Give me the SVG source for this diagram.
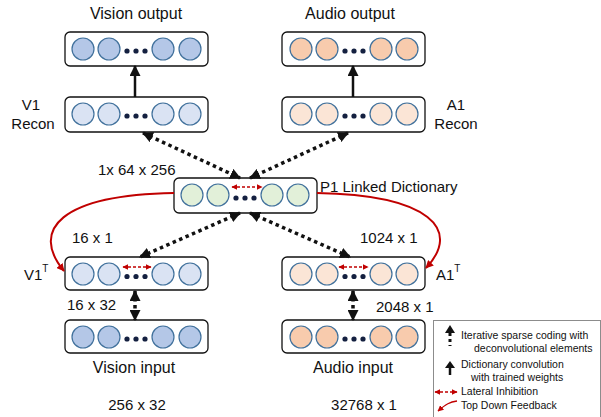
<svg xmlns="http://www.w3.org/2000/svg" width="601" height="417" viewBox="0 0 601 417">
<style>
text{font-family:"Liberation Sans",Arial,sans-serif;fill:#111}
.t16{font-size:16px}
.t15{font-size:15px}
.lg{font-size:10.5px}
.box{fill:#fff;stroke:#111;stroke-width:1.3}
.c{stroke:#41719c;stroke-width:1.2}
.vb{fill:#b4c7e7}.vl{fill:#dae3f3}.ab{fill:#f8cbad}.al{fill:#fbe5d6}.gr{fill:#e2f0d9}
.dot{fill:#142040}
.dotted{fill:none;stroke:#111;stroke-width:3.5;stroke-dasharray:3.5 3.5}
.solid{fill:none;stroke:#111;stroke-width:2.5}
.red{fill:none;stroke:#c00000;stroke-width:2}
.reddash{fill:none;stroke:#c00000;stroke-width:1.3;stroke-dasharray:3 2}
</style>
<defs>
<marker id="ah" viewBox="0 0 10 10" refX="9" refY="5" markerWidth="11" markerHeight="11" markerUnits="userSpaceOnUse" orient="auto-start-reverse"><path d="M0,0 L10,5 L0,10 z" fill="#111"/></marker>
<marker id="ahs" viewBox="0 0 10 10" refX="9" refY="5" markerWidth="9" markerHeight="9" markerUnits="userSpaceOnUse" orient="auto-start-reverse"><path d="M0,0 L10,5 L0,10 z" fill="#111"/></marker>
<marker id="rh" viewBox="0 0 10 10" refX="9" refY="5" markerWidth="8" markerHeight="8" markerUnits="userSpaceOnUse" orient="auto-start-reverse"><path d="M0,0 L10,5 L0,10 z" fill="#c00000"/></marker>
<marker id="rhs" viewBox="0 0 10 10" refX="9" refY="5" markerWidth="6" markerHeight="6" markerUnits="userSpaceOnUse" orient="auto-start-reverse"><path d="M0,0 L10,5 L0,10 z" fill="#c00000"/></marker>
<g id="row">
<rect class="box" x="0" y="0" width="143" height="34" rx="5"/>
</g>
</defs>

<g id="vision-output" transform="translate(65,32)">
<rect class="box" x="0" y="0" width="143" height="34" rx="5"/>
<circle class="c vb" cx="18" cy="17" r="11"/><circle class="c vb" cx="44" cy="17" r="11"/>
<circle class="c vb" cx="98" cy="17" r="11"/><circle class="c vb" cx="125" cy="17" r="11"/>
<circle class="dot" cx="62" cy="19" r="2.6"/><circle class="dot" cx="71" cy="19" r="2.6"/><circle class="dot" cx="80" cy="19" r="2.6"/>
</g>
<g id="v1-recon" transform="translate(65,97)">
<rect class="box" x="0" y="0" width="143" height="35" rx="5"/>
<circle class="c vl" cx="18" cy="17" r="11"/><circle class="c vl" cx="44" cy="17" r="11"/>
<circle class="c vl" cx="98" cy="17" r="11"/><circle class="c vl" cx="125" cy="17" r="11"/>
<circle class="dot" cx="62" cy="19" r="2.6"/><circle class="dot" cx="71" cy="19" r="2.6"/><circle class="dot" cx="80" cy="19" r="2.6"/>
</g>
<g id="v1t" transform="translate(65,257)">
<rect class="box" x="0" y="0" width="143" height="33" rx="5"/>
<circle class="c vl" cx="18" cy="17" r="11"/><circle class="c vl" cx="44" cy="17" r="11"/>
<circle class="c vl" cx="98" cy="17" r="11"/><circle class="c vl" cx="125" cy="17" r="11"/>
<circle class="dot" cx="62" cy="19.5" r="2.6"/><circle class="dot" cx="71" cy="19.5" r="2.6"/><circle class="dot" cx="80" cy="19.5" r="2.6"/>
<path class="reddash" d="M58,10 H86" marker-start="url(#rhs)" marker-end="url(#rhs)"/>
</g>
<g id="vision-input" transform="translate(65,320)">
<rect class="box" x="0" y="0" width="143" height="33" rx="5"/>
<circle class="c vb" cx="18" cy="17" r="11"/><circle class="c vb" cx="44" cy="17" r="11"/>
<circle class="c vb" cx="98" cy="17" r="11"/><circle class="c vb" cx="125" cy="17" r="11"/>
<circle class="dot" cx="62" cy="19" r="2.6"/><circle class="dot" cx="71" cy="19" r="2.6"/><circle class="dot" cx="80" cy="19" r="2.6"/>
</g>

<g id="audio-output" transform="translate(282,32)">
<rect class="box" x="0" y="0" width="143" height="34" rx="5"/>
<circle class="c ab" cx="19" cy="17" r="11"/><circle class="c ab" cx="45" cy="17" r="11"/>
<circle class="c ab" cx="99" cy="17" r="11"/><circle class="c ab" cx="125" cy="17" r="11"/>
<circle class="dot" cx="63" cy="19" r="2.6"/><circle class="dot" cx="72" cy="19" r="2.6"/><circle class="dot" cx="81" cy="19" r="2.6"/>
</g>
<g id="a1-recon" transform="translate(282,97)">
<rect class="box" x="0" y="0" width="143" height="35" rx="5"/>
<circle class="c al" cx="19" cy="17" r="11"/><circle class="c al" cx="45" cy="17" r="11"/>
<circle class="c al" cx="99" cy="17" r="11"/><circle class="c al" cx="125" cy="17" r="11"/>
<circle class="dot" cx="63" cy="19" r="2.6"/><circle class="dot" cx="72" cy="19" r="2.6"/><circle class="dot" cx="81" cy="19" r="2.6"/>
</g>
<g id="a1t" transform="translate(282,257)">
<rect class="box" x="0" y="0" width="143" height="33" rx="5"/>
<circle class="c al" cx="19" cy="17" r="11"/><circle class="c al" cx="45" cy="17" r="11"/>
<circle class="c al" cx="99" cy="17" r="11"/><circle class="c al" cx="125" cy="17" r="11"/>
<circle class="dot" cx="63" cy="19.5" r="2.6"/><circle class="dot" cx="72" cy="19.5" r="2.6"/><circle class="dot" cx="81" cy="19.5" r="2.6"/>
<path class="reddash" d="M57,10 H86" marker-start="url(#rhs)" marker-end="url(#rhs)"/>
</g>
<g id="audio-input" transform="translate(282,320)">
<rect class="box" x="0" y="0" width="143" height="33" rx="5"/>
<circle class="c ab" cx="19" cy="17" r="11"/><circle class="c ab" cx="45" cy="17" r="11"/>
<circle class="c ab" cx="99" cy="17" r="11"/><circle class="c ab" cx="125" cy="17" r="11"/>
<circle class="dot" cx="63" cy="19" r="2.6"/><circle class="dot" cx="72" cy="19" r="2.6"/><circle class="dot" cx="81" cy="19" r="2.6"/>
</g>

<g id="p1-dictionary" transform="translate(174,178)">
<rect class="box" x="0" y="0" width="143" height="35" rx="5"/>
<circle class="c gr" cx="18" cy="17" r="11"/><circle class="c gr" cx="44" cy="17" r="11"/>
<circle class="c gr" cx="98" cy="17" r="11"/><circle class="c gr" cx="124" cy="17" r="11"/>
<circle class="dot" cx="62" cy="20" r="2.6"/><circle class="dot" cx="71" cy="20" r="2.6"/><circle class="dot" cx="80" cy="20" r="2.6"/>
<path class="reddash" d="M58,9 H88" marker-start="url(#rhs)" marker-end="url(#rhs)"/>
</g>

<g id="connectors">
<path class="solid" d="M135,97 V66" marker-end="url(#ah)"/>
<path class="solid" d="M353,97 V66" marker-end="url(#ah)"/>
<path class="dotted" d="M143,133 L240,178" marker-start="url(#ah)" marker-end="url(#ah)"/>
<path class="dotted" d="M348,133 L250,178" marker-start="url(#ah)" marker-end="url(#ah)"/>
<path class="dotted" d="M240,213 L140,257" marker-start="url(#ah)" marker-end="url(#ah)"/>
<path class="dotted" d="M250,213 L350,257" marker-start="url(#ah)" marker-end="url(#ah)"/>
<path class="dotted" d="M135,291 V320" marker-start="url(#ah)" marker-end="url(#ah)"/>
<path class="dotted" d="M353,291 V320" marker-start="url(#ah)" marker-end="url(#ah)"/>
<path class="red" d="M174,193 C60,195 30,230 64,271" marker-end="url(#rh)"/>
<path class="red" d="M317,193 C430,195 462,230 426,268" marker-end="url(#rh)"/>
</g>

<g id="labels">
<text class="t16" x="136" y="19" text-anchor="middle">Vision output</text>
<text class="t16" x="350" y="19" text-anchor="middle">Audio output</text>
<text class="t15" x="31" y="110" text-anchor="middle">V1</text>
<text class="t15" x="33" y="129" text-anchor="middle">Recon</text>
<text class="t15" x="456" y="110" text-anchor="middle">A1</text>
<text class="t15" x="456" y="129" text-anchor="middle">Recon</text>
<text class="t15" x="98" y="175">1x 64 x 256</text>
<text class="t15" x="320" y="192">P1 Linked Dictionary</text>
<text class="t15" x="72" y="243">16 x 1</text>
<text class="t15" x="360" y="243">1024 x 1</text>
<text class="t15" x="24" y="280">V1<tspan font-size="10" dy="-8">T</tspan></text>
<text class="t15" x="436" y="280">A1<tspan font-size="10" dy="-8">T</tspan></text>
<text class="t15" x="67" y="310">16 x 32</text>
<text class="t15" x="376" y="312">2048 x 1</text>
<text class="t16" x="134" y="373" text-anchor="middle">Vision input</text>
<text class="t16" x="353" y="373" text-anchor="middle">Audio input</text>
<text class="t15" x="137" y="410" text-anchor="middle">256 x 32</text>
<text class="t15" x="364" y="410" text-anchor="middle">32768 x 1</text>
</g>

<g id="legend">
<rect x="433.5" y="320.5" width="167" height="100" fill="#fff" stroke="#8c8c8c" stroke-width="1"/>
<path d="M450,333 V346" fill="none" stroke="#111" stroke-width="3" stroke-dasharray="3 3"/>
<path d="M445,333 L450,325 L455,333 z" fill="#111"/>
<path d="M450,375 V367" fill="none" stroke="#111" stroke-width="2.5"/>
<path d="M445,368 L450,361 L455,368 z" fill="#111"/>
<path class="reddash" d="M435,392 H457" marker-start="url(#rhs)" marker-end="url(#rhs)"/>
<path d="M457,401 C450,402 446,404 438,411" fill="none" stroke="#c00000" stroke-width="1.3" marker-end="url(#rhs)"/>
<text class="lg" x="461" y="339">Iterative sparse coding with</text>
<text class="lg" x="474" y="352">deconvolutional elements</text>
<text class="lg" x="461" y="368">Dictionary convolution</text>
<text class="lg" x="471" y="381">with trained weights</text>
<text class="lg" x="461" y="395">Lateral Inhibition</text>
<text class="lg" x="461" y="409">Top Down Feedback</text>
</g>
</svg>
